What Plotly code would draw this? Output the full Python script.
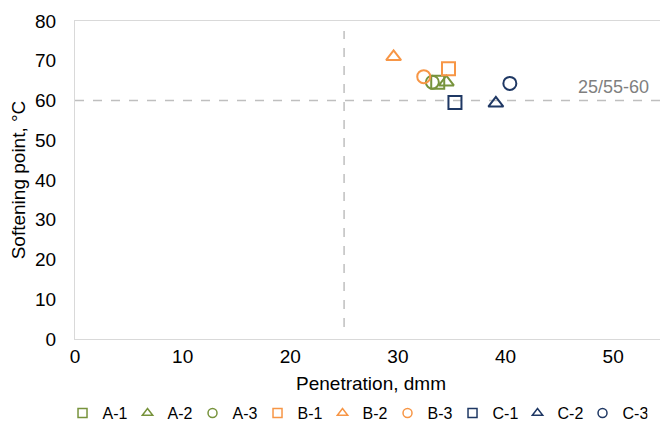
import plotly.graph_objects as go

series_names = ["A-1", "A-2", "A-3", "B-1", "B-2", "B-3", "C-1", "C-2", "C-3"]
penetration = [33.7, 34.5, 33.2, 34.7, 29.6, 32.4, 35.3, 39.1, 40.4]
softening = [64.6, 64.6, 64.6, 68.0, 71.0, 66.0, 59.5, 59.3, 64.3]
symbols = ["square-open", "triangle-up-open", "circle-open"] * 3
colors = ["#77933C"] * 3 + ["#F79646"] * 3 + ["#1F3864"] * 3

# grade limit lines (25/55-60)
limit_v1_x = [25, 25]
limit_v1_y = [3, 77.5]
limit_v2_x = [55, 55]
limit_v2_y = [3, 77.5]
limit_h_x = [0, 55]
limit_h_y = [60, 60]
grade_label = "25/55-60"

FONT = "Liberation Sans, Arial"
FS = 19

fig = go.Figure()
line_style = dict(color="#BFBFBF", width=1.5, dash="dash")
for xs, ys in [(limit_v1_x, limit_v1_y), (limit_v2_x, limit_v2_y), (limit_h_x, limit_h_y)]:
    fig.add_trace(go.Scatter(x=xs, y=ys, mode="lines", line=line_style,
                             showlegend=False, hoverinfo="skip"))

for n, px, sy, sym, c in zip(series_names, penetration, softening, symbols, colors):
    fig.add_trace(go.Scatter(
        x=[px], y=[sy], mode="markers", name=n, legendgroup=n, showlegend=False,
        marker=dict(symbol=sym, size=13, color=c, line=dict(width=2, color=c)),
    ))
    # small legend proxy
    fig.add_trace(go.Scatter(
        x=[None], y=[None], mode="markers", name=n, legendgroup=n,
        marker=dict(symbol=sym, size=9, color=c, line=dict(width=1.5, color=c)),
    ))

fig.add_annotation(x=53.5, y=60, text=grade_label, showarrow=False,
                   xanchor="right", yanchor="bottom", yshift=2,
                   font=dict(size=FS - 1, color="#7F7F7F", family=FONT))

axis_common = dict(showgrid=False, zeroline=False, showline=True, linecolor="#D9D9D9",
                   linewidth=1, mirror=True, ticks="",
                   tickfont=dict(size=FS, color="#000000", family=FONT))
fig.update_xaxes(range=[0, 55], tickvals=[0, 10, 20, 30, 40, 50], ticklabelstandoff=0,
                 title=dict(text="Penetration, dmm", standoff=10,
                            font=dict(size=FS, color="#000000", family=FONT)),
                 **axis_common)
fig.update_yaxes(range=[0, 80], dtick=10, ticklabelstandoff=14,
                 title=dict(text="Softening point, °C", standoff=4,
                            font=dict(size=FS, color="#000000", family=FONT)),
                 **axis_common)

fig.update_layout(
    width=660, height=423,
    margin=dict(l=67, r=1, t=13, b=92),
    paper_bgcolor="white", plot_bgcolor="white",
    font=dict(family=FONT, size=FS, color="#000000"),
    legend=dict(orientation="h", x=0.473, xanchor="center",
                y=-0.233, yanchor="middle",
                itemwidth=30, entrywidth=20, font=dict(size=16), tracegroupgap=0),
)

fig.write_html("out.html")
